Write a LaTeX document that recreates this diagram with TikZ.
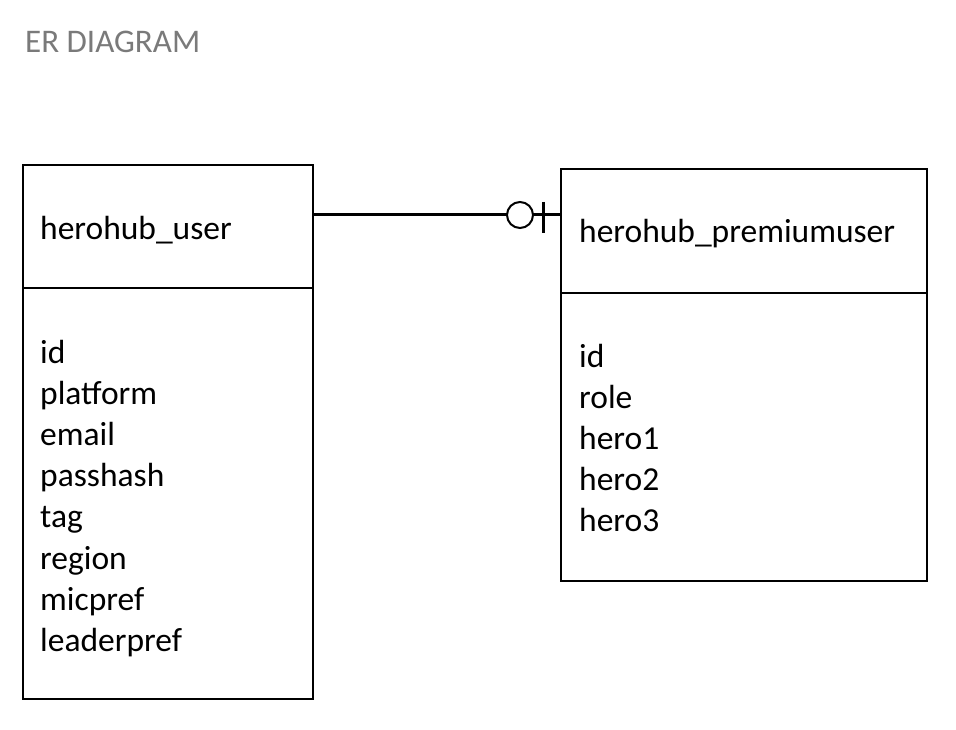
\documentclass[tikz,border=0pt]{standalone}
\usepackage{fontspec}
\setmainfont{Carlito}
\definecolor{titlegray}{HTML}{7A7A7A}
\begin{document}
\begin{tikzpicture}[x=1pt,y=-1pt,
  entity/.style={draw=black, line width=2pt, rectangle, inner sep=0pt, outer sep=0pt},
  txt/.style={anchor=base west, inner sep=0pt, font=\fontsize{33.5}{41}\selectfont},
  ttl/.style={anchor=base west, inner sep=0pt, text=titlegray, font=\fontsize{33}{39}\selectfont},
  rel/.style={line width=3pt},
  optcircle/.style={circle, draw=black, line width=2pt, fill=white, minimum size=26pt, inner sep=0pt}]
\useasboundingbox[fill=white] (0,0) rectangle (956,730);
\node[ttl] (title) at (25,53) {ER DIAGRAM};
% entities
\node[entity, minimum width=290pt, minimum height=534pt] (user) at (168,432) {};
\node[entity, minimum width=366pt, minimum height=412pt] (prem) at (744,375) {};
\draw[line width=2pt] (user.west |- 0,288) -- (user.east |- 0,288);
\draw[line width=2pt] (prem.west |- 0,293) -- (prem.east |- 0,293);
% titles
\node[txt] (userttl) at (40,240) {herohub\_user};
\node[txt] (premttl) at (579,243) {herohub\_premiumuser};
% attributes
\foreach \t [count=\i] in {id,platform,email,passhash,tag,region,micpref,leaderpref}
  \node[txt] (ua\i) at (40,{363+41.2*(\i-1)}) {\t};
\foreach \t [count=\i] in {id,role,hero1,hero2,hero3}
  \node[txt] (pa\i) at (579,{367+41*(\i-1)}) {\t};
% relationship
\draw[rel] (user.east |- 0,215) -- (prem.west |- 0,215);
\node[optcircle] (opt) at (520,215) {};
\coordinate (bartop) at (543,202);
\coordinate (barbot) at (543,233);
\draw[rel] (bartop) -- (barbot);
\end{tikzpicture}
\end{document}
